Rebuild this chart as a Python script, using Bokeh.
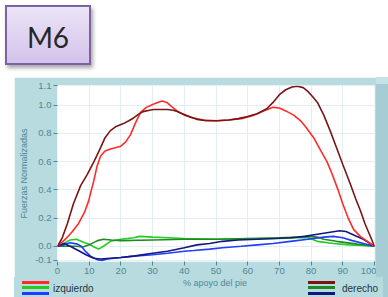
from bokeh.plotting import figure
from bokeh.models import Div, FixedTicker, Range1d
from bokeh.layouts import column, row
from bokeh.embed import file_html
from bokeh.resources import INLINE

# ---------------- data ----------------
x_red = [0, 2.5, 4.5, 6.6, 8.5, 9.8, 11.4, 12.5, 13.6, 15, 16.7, 18.5, 20, 21.5, 23, 24.5, 26.2, 28,
         29.5, 31, 33, 34.5, 36, 38, 40, 43, 46, 50, 54, 58, 62, 65, 68, 70, 72, 74.5, 76.7, 78.5,
         80.8, 83, 85, 86.5, 88.5, 90, 91.7, 93.4, 95.5, 97.8, 100]
y_red = [0.0, 0.05, 0.10, 0.16, 0.24, 0.32, 0.46, 0.57, 0.64, 0.675, 0.69, 0.70, 0.71, 0.74, 0.79,
         0.87, 0.95, 0.985, 1.0, 1.015, 1.03, 1.02, 0.99, 0.955, 0.93, 0.91, 0.895, 0.89, 0.895,
         0.905, 0.93, 0.96, 0.985, 0.98, 0.96, 0.93, 0.89, 0.84, 0.77, 0.68, 0.60, 0.52, 0.40, 0.30,
         0.20, 0.12, 0.07, 0.035, 0.0]

x_brown = [0, 1.5, 3.1, 5, 7.3, 9.4, 11.5, 13.6, 15, 16.7, 18.5, 20.8, 22.5, 24, 25.5, 27, 29, 30.3,
           32, 34.7, 36.5, 37.8, 40, 42, 44, 47, 50.5, 54, 57, 60, 63, 66, 68, 70, 72, 74, 75.7,
           77.5, 78.9, 80.5, 82, 84, 86, 88, 90, 92.4, 94, 95.6, 97, 98.5, 100]
y_brown = [0.0, 0.06, 0.16, 0.30, 0.43, 0.51, 0.60, 0.70, 0.77, 0.82, 0.85, 0.87, 0.89, 0.91, 0.935,
           0.955, 0.965, 0.97, 0.97, 0.97, 0.965, 0.955, 0.935, 0.915, 0.90, 0.89, 0.89, 0.895,
           0.905, 0.92, 0.94, 0.975, 1.02, 1.075, 1.11, 1.13, 1.135, 1.125, 1.10, 1.06, 1.02, 0.93,
           0.82, 0.70, 0.58, 0.44, 0.34, 0.25, 0.16, 0.08, 0.0]

x_green = [0, 2, 4, 6, 8, 10, 11.5, 13, 14.5, 16.7, 20, 24, 26, 30, 35, 40, 50, 60, 70, 76, 79, 82,
           87, 92, 96, 100]
y_green = [0.0, 0.02, 0.045, 0.05, 0.03, 0.015, -0.005, -0.02, 0.0, 0.035, 0.05, 0.06, 0.07, 0.065,
           0.06, 0.055, 0.05, 0.05, 0.055, 0.06, 0.06, 0.035, 0.02, 0.01, 0.005, 0.0]

x_dgreen = [0, 3, 6, 8, 10, 12.6, 14.5, 17, 20, 30, 40, 50, 60, 70, 76, 79, 82, 84, 88, 94.6, 100]
y_dgreen = [0.0, 0.0, 0.0, -0.005, 0.01, 0.04, 0.05, 0.045, 0.04, 0.045, 0.05, 0.05, 0.055, 0.06,
            0.065, 0.07, 0.065, 0.05, 0.035, 0.015, 0.0]

x_blue = [0, 2, 4, 6.3, 7.5, 9, 10.4, 12.6, 14, 15.7, 20, 24, 30, 34.7, 40, 43, 48, 52, 58, 63, 68,
          73.5, 79, 84, 87, 90, 93, 96.5, 100]
y_blue = [0.0, 0.01, 0.025, 0.015, 0.0, -0.04, -0.07, -0.095, -0.1, -0.09, -0.08, -0.07, -0.06,
          -0.05, -0.035, -0.03, -0.02, -0.01, 0.0, 0.01, 0.02, 0.035, 0.05, 0.065, 0.07, 0.06, 0.04,
          0.02, 0.0]

x_dblue = [0, 2, 4, 7, 9, 11.4, 13.6, 16.7, 20, 24, 30, 34.7, 40, 44, 48, 52, 57, 63, 68, 73.5, 78,
           82, 86, 89, 91, 92.4, 94.5, 96.5, 98.5, 100]
y_dblue = [0.0, 0.02, 0.0, -0.035, -0.06, -0.085, -0.09, -0.085, -0.08, -0.07, -0.05, -0.035, -0.01,
           0.01, 0.02, 0.035, 0.045, 0.05, 0.055, 0.06, 0.07, 0.085, 0.1, 0.11, 0.105, 0.09, 0.07,
           0.05, 0.02, 0.0]

x_ticks = [0, 10, 20, 30, 40, 50, 60, 70, 80, 90, 100]
y_tick_values = [-0.1, 0.0, 0.2, 0.4, 0.6, 0.8, 1.0, 1.14]
y_tick_labels = ["-0.1", "0.0", "0.2", "0.4", "0.6", "0.8", "1.0", "1.1"]

title_text = "M6"
x_label = "% apoyo del pie"
y_label = "Fuerzas Normalizadas"
legend_left = "izquierdo"
legend_right = "derecho"

c_red, c_green, c_blue = "#ff2a2a", "#22cc22", "#1f3cff"
c_dred, c_dgreen, c_dblue = "#7a1515", "#1f8a22", "#16167e"

# ---------------- header box ----------------
box_html = (
    '<div style="position:relative;width:388px;height:77px;">'
    '<div style="position:absolute;left:5px;top:5px;box-sizing:border-box;width:86px;height:60px;'
    'border:2px solid #7d62a3;background:linear-gradient(#ece4f7,#d2c3ea);'
    'box-shadow:2px 3px 4px rgba(0,0,0,0.35);display:flex;align-items:center;'
    'justify-content:center;padding-top:4px;font-family:Lato;font-size:28px;color:#262626;">'
    + title_text + '</div></div>'
)
header = Div(text=box_html, width=388, height=77, margin=0)

# ---------------- chart ----------------
panel = "#b8dbe0"
band = "#a6ccd4"
tick_col = "#4f8795"
FONT = "Liberation Sans"

p = figure(width=362, height=200, output_backend="svg", toolbar_location=None,
           x_range=Range1d(0, 100), y_range=Range1d(-0.108, 1.1401),
           min_border_left=43, min_border_right=2, min_border_top=8, min_border_bottom=16,
           border_fill_color=panel, background_fill_color="white", outline_line_color=None,
           margin=0)

p.xgrid.grid_line_color = "#e2eef0"
p.ygrid.grid_line_color = "#e2eef0"

p.xaxis.ticker = FixedTicker(ticks=x_ticks)
p.yaxis.ticker = FixedTicker(ticks=y_tick_values)
p.yaxis.major_label_overrides = dict(zip(y_tick_values, y_tick_labels))

for ax in (p.xaxis[0], p.yaxis[0]):
    ax.axis_line_color = None
    ax.major_tick_line_color = tick_col
    ax.major_tick_out = 4
    ax.major_tick_in = 0
    ax.minor_tick_line_color = None
    ax.major_label_text_color = tick_col
    ax.major_label_text_font = FONT
    ax.major_label_text_font_size = "9.5px"
    ax.major_label_standoff = 2
    ax.axis_label_text_color = tick_col
    ax.axis_label_text_font = FONT
    ax.axis_label_text_font_size = "9px"
    ax.axis_label_text_font_style = "normal"

p.yaxis.axis_label = y_label
p.yaxis.axis_label_standoff = 3

lw = 1.6
p.line(x_green, y_green, line_color=c_green, line_width=lw)
p.line(x_dgreen, y_dgreen, line_color=c_dgreen, line_width=lw)
p.line(x_blue, y_blue, line_color=c_blue, line_width=lw)
p.line(x_dblue, y_dblue, line_color=c_dblue, line_width=lw)
p.line(x_red, y_red, line_color=c_red, line_width=lw)
p.line(x_brown, y_brown, line_color=c_dred, line_width=lw)

# ---------------- footer strip: x label + legends (HTML) ----------------
def swatches(colors, left):
    out = ""
    for i, c in enumerate(colors):
        out += ('<div style="position:absolute;left:%dpx;top:%dpx;width:27px;height:3px;'
                'background:%s;"></div>' % (left, 4 + 5 * i + (1 if i == 2 else 0), c))
    return out


def text_at(txt, left, top, color, size, width=None, align="left"):
    w = "width:%dpx;" % width if width else ""
    return ('<div style="position:absolute;left:%dpx;top:%dpx;%stext-align:%s;line-height:11px;'
            'font-size:%s;white-space:nowrap;color:%s;">%s</div>'
            % (left, top, w, align, size, color, txt))


foot_html = (
    '<div style="position:relative;width:374px;height:20px;'
    'background:linear-gradient(to right, %s 0px, %s 369px, %s 369px);'
    'font-family:\'Liberation Sans\';overflow:hidden;">' % (panel, panel, band)
    + swatches((c_red, c_green, c_blue), 8)
    + text_at(legend_left, 39, 6, "#22363c", "10px")
    + text_at(x_label, 141, 1, tick_col, "9px", width=120, align="center")
    + swatches((c_dred, c_dgreen, c_dblue), 294)
    + text_at(legend_right, 328, 6, "#22363c", "10px")
    + '</div>'
)
foot = Div(text=foot_html, width=374, height=20, margin=0)

spacer = Div(text="", width=14, height=220, margin=0)
strip = Div(text="", width=12, height=200, margin=0,
            styles={"background": "linear-gradient(to bottom, #c4e3e7 0px, #c4e3e7 7px, %s 7px)" % band})

chart = column(row(p, strip, spacing=0), foot, spacing=0)
layout = column(header, row(spacer, chart, spacing=0), spacing=0)

open("out.html", "w").write(file_html(layout, INLINE))
